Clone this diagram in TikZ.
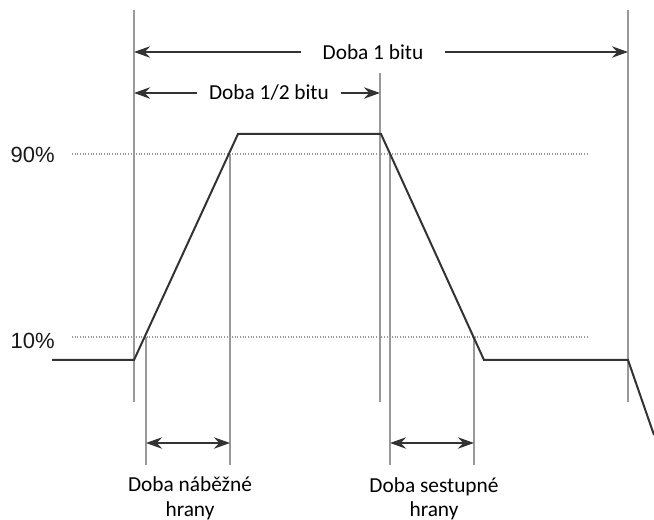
\documentclass[tikz,border=0pt]{standalone}
\usepackage{fontspec}
\setmainfont{Carlito}
\newfontfamily\pctfont{Liberation Sans}
\usetikzlibrary{arrows.meta}

\begin{document}
\begin{tikzpicture}[x=0.75pt, y=-0.75pt,
    >={Stealth[length=12pt, width=8.5pt, inset=4pt]},
    guide/.style ={draw=black!40, line width=1.2pt},
    threshold/.style ={draw=black!40, line width=0.8pt, dash pattern=on 0.8pt off 1.2pt},
    waveform/.style ={draw=black!80, line width=1.5pt},
    timearrow/.style ={draw=black!80, line width=2pt},
    note/.style ={font=\fontsize{16}{19}\selectfont, text=black, inner sep=0pt},
    pct/.style ={font=\pctfont\fontsize{16.5}{20}\selectfont, text=black!90, inner sep=0pt, anchor=east}]
   \useasboundingbox (0,0) rectangle (654,520);
   % levels
   \coordinate (h90a) at (72,154);
   \coordinate (h90b) at (587,154);
   \coordinate (h10a) at (72,337);
   \coordinate (h10b) at (587,337);
   \draw[threshold] (h90a) -- (h90b);
   \draw[threshold] (h10a) -- (h10b);
   \node[pct] (p90) at (55,155) {90\%};
   \node[pct] (p10) at (55,341) {10\%};
   % guides
   \coordinate (t0top) at (134,10);
   \coordinate (t0bot) at (134,402);
   \coordinate (t1top) at (628,10);
   \coordinate (t1bot) at (628,402);
   \coordinate (thtop) at (380,73);
   \coordinate (thbot) at (380,402);
   \coordinate (r10top) at (146,337);
   \coordinate (r10bot) at (146,465);
   \coordinate (r90top) at (230,154);
   \coordinate (r90bot) at (230,465);
   \coordinate (f90top) at (390,154);
   \coordinate (f90bot) at (390,465);
   \coordinate (f10top) at (474,337);
   \coordinate (f10bot) at (474,465);
   \draw[guide] (t0top) -- (t0bot);
   \draw[guide] (t1top) -- (t1bot);
   \draw[guide] (thtop) -- (thbot);
   \draw[guide] (r10top) -- (r10bot);
   \draw[guide] (r90top) -- (r90bot);
   \draw[guide] (f90top) -- (f90bot);
   \draw[guide] (f10top) -- (f10bot);
   % signal
   \coordinate (s0) at (52,360);
   \coordinate (s1) at (134,360);
   \coordinate (s2) at (238,134);
   \coordinate (s3) at (381,134);
   \coordinate (s4) at (484,360);
   \coordinate (s5) at (628,360);
   \coordinate (s6) at (654,435);
   \draw[waveform] (s0) -- (s1) -- (s2) -- (s3) -- (s4) -- (s5) -- (s6);
   % times
   \node[note, minimum width=108pt] (bit) at (373,52) {Doba 1 bitu};
   \coordinate (bitL) at (134,52);
   \coordinate (bitR) at (628,52);
   \draw[timearrow, ->] (bit) -- (bitL);
   \draw[timearrow, ->] (bit) -- (bitR);
   \node[note, minimum width=108pt] (halfbit) at (269,93) {Doba 1/2 bitu};
   \coordinate (halfL) at (134,93);
   \coordinate (halfR) at (380,93);
   \draw[timearrow, ->] (halfbit) -- (halfL);
   \draw[timearrow, ->] (halfbit) -- (halfR);
   \coordinate (riseA) at (146,443);
   \coordinate (riseB) at (230,443);
   \draw[timearrow, <->] (riseA) -- (riseB);
   \coordinate (fallA) at (390,443);
   \coordinate (fallB) at (474,443);
   \draw[timearrow, <->] (fallA) -- (fallB);
   \node[note, align=center, anchor=north] (risetext) at (190,476) {Doba náběžné\\hrany};
   \node[note, align=center, anchor=north, font=\fontsize{16}{18}\selectfont] (falltext) at (434,477) {Doba sestupné\\hrany};
 \end{tikzpicture}
\end{document}
